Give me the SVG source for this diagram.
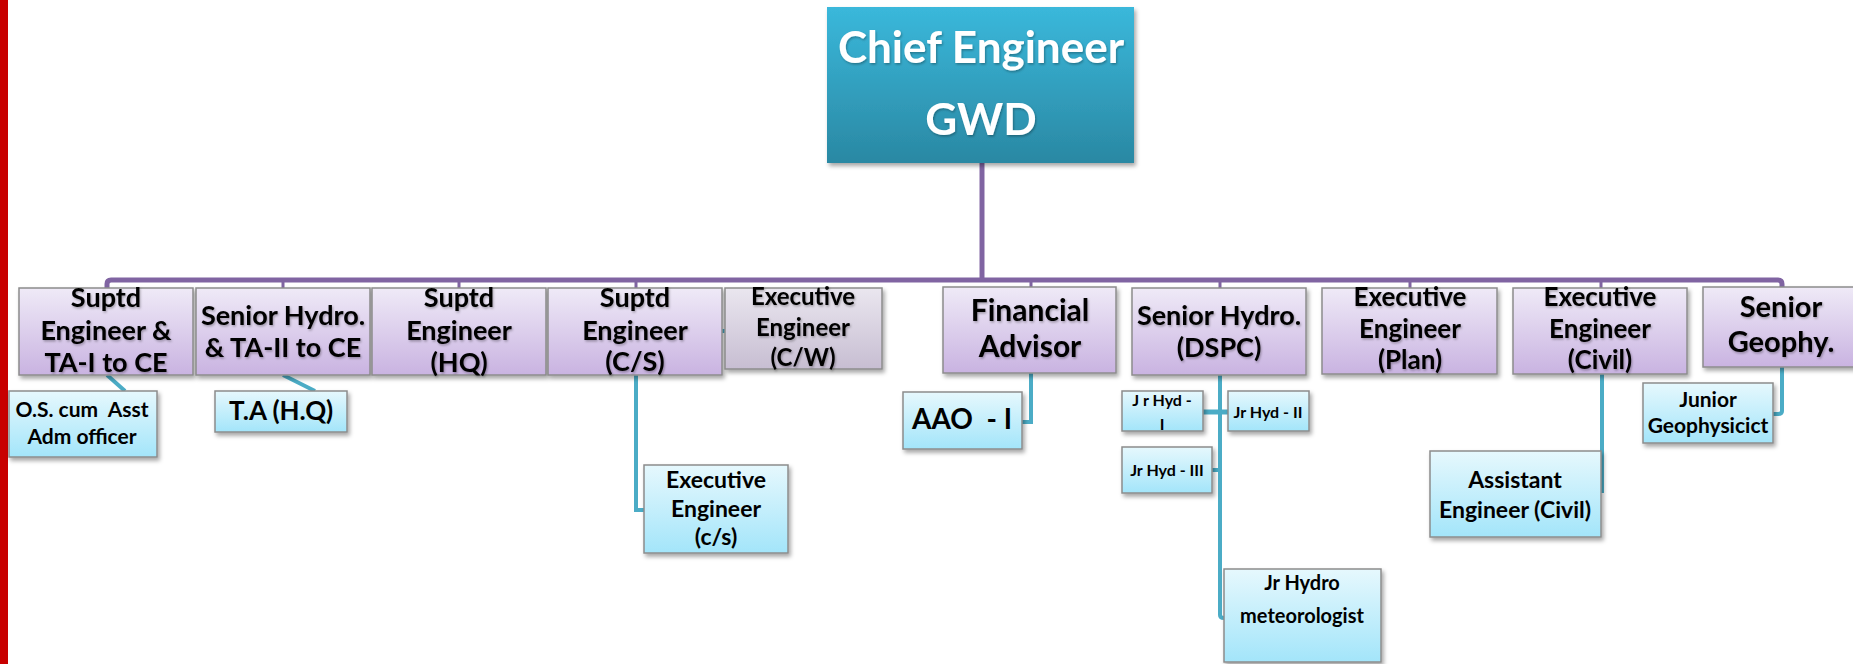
<svg xmlns="http://www.w3.org/2000/svg" width="1853" height="664" viewBox="0 0 1853 664">
<defs>
<linearGradient id="gPurple" x1="0" y1="0" x2="0" y2="1"><stop offset="0" stop-color="#EFEAF7"/><stop offset="1" stop-color="#C9B3E1"/></linearGradient>
<linearGradient id="gGray" x1="0" y1="0" x2="0" y2="1"><stop offset="0" stop-color="#EAE6EF"/><stop offset="1" stop-color="#C7BED2"/></linearGradient>
<linearGradient id="gCyan" x1="0" y1="0" x2="0" y2="1"><stop offset="0" stop-color="#E6F8FD"/><stop offset="1" stop-color="#A3E5FA"/></linearGradient>
<linearGradient id="gChief" x1="0" y1="0" x2="0" y2="1"><stop offset="0" stop-color="#3AB8DB"/><stop offset="1" stop-color="#2A88A3"/></linearGradient>
<filter id="sh" x="-10%" y="-10%" width="130%" height="140%"><feDropShadow dx="2" dy="3" stdDeviation="2" flood-color="#000" flood-opacity="0.35"/></filter>
<filter id="tsh" x="-5%" y="-20%" width="115%" height="150%"><feDropShadow dx="1" dy="1.5" stdDeviation="1" flood-color="#000" flood-opacity="0.3"/></filter>
</defs>
<style>
.box{stroke:#8C8C8C;stroke-width:1.5;filter:url(#sh)}
.p{fill:url(#gPurple)}
.g{fill:url(#gGray)}
.c{fill:url(#gCyan)}
.ch{fill:url(#gChief);stroke:none;filter:url(#sh)}
text{font-family:Lato,"Open Sans","Liberation Sans",sans-serif;font-weight:bold;text-anchor:middle;fill:#000}
.tl{filter:url(#tsh)}
.ct{fill:#fff;font-size:44px}
.r{font-size:27px}
.cw{font-size:24px}
.ex{font-size:26px}
.big{font-size:30px}
.geo{font-size:29px}
.os{font-size:21px}
.ta{font-size:26px}
.aao{font-size:28px}
.m{font-size:23px}
.jg{font-size:21px}
.jm{font-size:20px}
.jh{font-size:16px}
.bar{fill:none;stroke:#8064A2;stroke-width:5}
.tk{fill:none;stroke:#8064A2;stroke-width:3}
.tc{fill:none;stroke:#4BACC6;stroke-width:4}
</style>
<rect x="0" y="0" width="8" height="664" fill="#C80000"/>
<g id="connectors">
<path class="bar" d="M982,163 V280"/>
<path class="bar" d="M107,289 V284 Q107,280 111,280 H1778 Q1782,280 1782,284 V289"/>
<path class="tk" d="M283,280 V289 M459,280 V289 M636,280 V289 M1031,280 V289 M1220,280 V289 M1410,280 V289 M1601,280 V289"/>
<path class="tc" d="M107,375 L125,391"/>
<path class="tc" d="M283,375 L315,391"/>
<path class="tc" d="M636,375 V510 H645"/>
<path class="tc" d="M721,331 H726"/>
<path class="tc" d="M1031,373 V422 H1022"/>
<path class="tc" d="M1220,375 V615 Q1220,618 1224,618"/>
<path class="tc" d="M1203,412 H1228" style="stroke-width:5"/>
<path class="tc" d="M1212,470 H1220"/>
<path class="tc" d="M1602,374 V493"/>
<path class="tc" d="M1782,367 V411 Q1782,414 1778,414 H1773"/>
</g>
<g id="chief">
<rect class="ch" x="827" y="7" width="307" height="156"/>
<text class="ct tl" x="981" y="63">Chief Engineer</text>
<text class="ct tl" x="981" y="135">GWD</text>
</g>
<g id="se-ta1">
<rect class="box p" x="19" y="288" width="174" height="87"/>
<text class="r tl" x="106" y="307">Suptd</text>
<text class="r tl" x="106" y="340">Engineer &amp;</text>
<text class="r tl" x="106" y="372">TA-I to CE</text>
</g>
<g id="sh-ta2">
<rect class="box p" x="196" y="288" width="174" height="87"/>
<text class="r tl" x="283" y="325">Senior Hydro.</text>
<text class="r tl" x="283" y="357">&amp; TA-II to CE</text>
</g>
<g id="se-hq">
<rect class="box p" x="372" y="288" width="174" height="87"/>
<text class="r tl" x="459" y="307">Suptd</text>
<text class="r tl" x="459" y="340">Engineer</text>
<text class="r tl" x="459" y="372">(HQ)</text>
</g>
<g id="se-cs">
<rect class="box p" x="548" y="288" width="174" height="87"/>
<text class="r tl" x="635" y="307">Suptd</text>
<text class="r tl" x="635" y="340">Engineer</text>
<text class="r tl" x="635" y="371">(C/S)</text>
</g>
<g id="ee-cw">
<rect class="box g" x="725" y="288" width="157" height="81"/>
<text class="cw tl" x="803" y="305">Executive</text>
<text class="cw tl" x="803" y="336">Engineer</text>
<text class="cw tl" x="803" y="366">(C/W)</text>
</g>
<g id="fa">
<rect class="box p" x="943" y="287" width="173" height="86"/>
<text class="big tl" x="1030" y="321">Financial</text>
<text class="big tl" x="1030" y="357">Advisor</text>
</g>
<g id="sh-dspc">
<rect class="box p" x="1132" y="288" width="174" height="87"/>
<text class="r tl" x="1219" y="325">Senior Hydro.</text>
<text class="r tl" x="1219" y="357">(DSPC)</text>
</g>
<g id="ee-plan">
<rect class="box p" x="1322" y="288" width="175" height="86"/>
<text class="ex tl" x="1410" y="306">Executive</text>
<text class="ex tl" x="1410" y="338">Engineer</text>
<text class="ex tl" x="1410" y="369">(Plan)</text>
</g>
<g id="ee-civil">
<rect class="box p" x="1513" y="288" width="174" height="86"/>
<text class="ex tl" x="1600" y="306">Executive</text>
<text class="ex tl" x="1600" y="338">Engineer</text>
<text class="ex tl" x="1600" y="369">(Civil)</text>
</g>
<g id="sgeo">
<rect class="box p" x="1703" y="287" width="160" height="80"/>
<text class="geo tl" x="1781" y="317">Senior</text>
<text class="geo tl" x="1781" y="352">Geophy.</text>
</g>
<g id="os">
<rect class="box c" x="9" y="391" width="148" height="66"/>
<text class="os" x="82" y="417" xml:space="preserve">O.S. cum  Asst</text>
<text class="os" x="82" y="444">Adm officer</text>
</g>
<g id="ta-hq">
<rect class="box c" x="215" y="391" width="132" height="41"/>
<text class="ta" x="281" y="420">T.A (H.Q)</text>
</g>
<g id="ee-cs">
<rect class="box c" x="644" y="465" width="144" height="88"/>
<text class="m" x="716" y="488">Executive</text>
<text class="m" x="716" y="517">Engineer</text>
<text class="m" x="716" y="545">(c/s)</text>
</g>
<g id="aao">
<rect class="box c" x="903" y="392" width="119" height="57"/>
<text class="aao" x="962" y="429" xml:space="preserve">AAO  - I</text>
</g>
<g id="jrh1">
<rect class="box c" x="1122" y="391" width="81" height="40"/>
<text class="jh" x="1162" y="406">J r Hyd -</text>
<text class="jh" x="1162" y="430">I</text>
</g>
<g id="jrh2">
<rect class="box c" x="1228" y="391" width="81" height="40"/>
<text class="jh" x="1268" y="418">Jr Hyd - II</text>
</g>
<g id="jrh3">
<rect class="box c" x="1122" y="447" width="90" height="46"/>
<text class="jh" x="1167" y="476">Jr Hyd - III</text>
</g>
<g id="jrhm">
<rect class="box c" x="1224" y="569" width="157" height="93"/>
<text class="jm" x="1302" y="590">Jr Hydro</text>
<text class="jm" x="1302" y="623">meteorologist</text>
</g>
<g id="ae-civil">
<rect class="box c" x="1430" y="451" width="171" height="86"/>
<text class="m" x="1515" y="488">Assistant</text>
<text class="m" x="1515" y="518">Engineer (Civil)</text>
</g>
<g id="jgeo">
<rect class="box c" x="1643" y="383" width="130" height="60"/>
<text class="jg" x="1708" y="407">Junior</text>
<text class="jg" x="1708" y="433">Geophysicict</text>
</g>
</svg>
